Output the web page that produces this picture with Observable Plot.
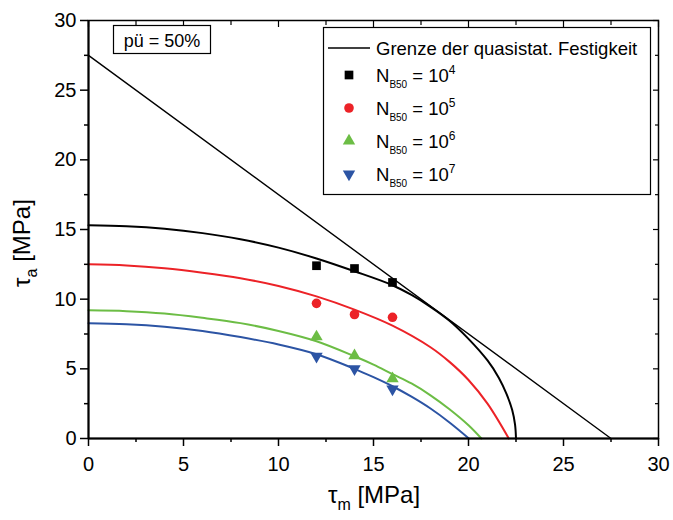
<!DOCTYPE html>
<html>
<head>
<meta charset="utf-8">
<script src="https://cdn.jsdelivr.net/npm/d3@7"></script>
<script src="https://cdn.jsdelivr.net/npm/@observablehq/plot@0.6"></script>
<style>
  body { margin: 0; background: #fff; }
  #chart { width: 673px; height: 520px; }
</style>
</head>
<body>
<div id="chart"></div>
<script>
// ---- data ----
const xMajor = [0, 5, 10, 15, 20, 25, 30];
const xMinor = [2.5, 7.5, 12.5, 17.5, 22.5, 27.5];
const yMajor = [0, 5, 10, 15, 20, 25, 30];
const yMinor = [2.5, 7.5, 12.5, 17.5, 22.5, 27.5];

const limitX = [0, 27.5];
const limitY = [27.5, 0];

const seriesNames = ["N4", "N5", "N6", "N7"];
const seriesColors = ["#000000", "#ec2227", "#6cbd45", "#2c54a4"];
const seriesExp = ["4", "5", "6", "7"];

const curveN4x = [0, 2, 4, 6, 8, 10, 12, 14, 16, 17, 18, 19, 20, 21, 21.6, 22, 22.3, 22.45, 22.5];
const curveN4y = [15.3, 15.23, 15.05, 14.74, 14.3, 13.7, 12.92, 12.0, 11.0, 10.3, 9.45, 8.45, 7.15, 5.6, 4.35, 3.2, 2.05, 1.0, 0];
const curveN5x = [0, 2, 4, 6, 8, 10, 12, 14, 16, 18, 19, 20, 21, 22.12];
const curveN5y = [12.5, 12.42, 12.22, 11.9, 11.5, 10.95, 10.2, 9.25, 8.1, 6.55, 5.5, 4.2, 2.5, 0];
const curveN6x = [0, 2, 4, 6, 8, 10, 12, 14, 15, 16, 17, 18, 19, 20, 20.68];
const curveN6y = [9.2, 9.14, 8.97, 8.66, 8.28, 7.72, 6.98, 5.9, 5.3, 4.62, 3.95, 3.1, 2.1, 0.95, 0];
const curveN7x = [0, 2, 4, 6, 8, 10, 12, 14, 15, 16, 17, 18, 19, 20.02];
const curveN7y = [8.28, 8.2, 8.02, 7.72, 7.28, 6.75, 6.05, 5.0, 4.4, 3.75, 3.0, 2.15, 1.15, 0];

const pointTauM = [12, 14, 16];
const pointsN4 = [12.4, 12.2, 11.2];
const pointsN5 = [9.7, 8.9, 8.7];
const pointsN6 = [7.3, 5.95, 4.3];
const pointsN7 = [5.9, 5.0, 3.55];

// ---- build tables ----
const curveXs = [curveN4x, curveN5x, curveN6x, curveN7x];
const curveYs = [curveN4y, curveN5y, curveN6y, curveN7y];
const curveRows = seriesNames.flatMap((s, i) => curveXs[i].map((x, j) => ({s, x, y: curveYs[i][j]})));
const pointYs = [pointsN4, pointsN5, pointsN6, pointsN7];
const pointRows = seriesNames.flatMap((s, i) => pointTauM.map((x, j) => ({s, x, y: pointYs[i][j]})));
const limitRows = limitX.map((x, i) => ({x, y: limitY[i]}));

const sqrt3 = Math.sqrt(3);
const triangleDown = {
  draw(context, size) {
    const y = Math.sqrt(size / (sqrt3 * 3));
    context.moveTo(0, y * 2);
    context.lineTo(-sqrt3 * y, -y);
    context.lineTo(sqrt3 * y, -y);
    context.closePath();
  }
};
const symbols = ["square", "circle", "triangle", triangleDown];
const symbolR = [4.9, 4.8, 4.6, 4.6];

const font = "'Liberation Sans', Arial, Helvetica, sans-serif";

const pointMarks = seriesNames.map((s, i) =>
  Plot.dot(pointRows.filter(d => d.s === s), {
    x: "x", y: "y", symbol: symbols[i], r: symbolR[i],
    fill: seriesColors[i], stroke: "none"
  })
);

const svg = Plot.plot({
  width: 673,
  height: 520,
  marginLeft: 88,
  marginRight: 15,
  marginTop: 20,
  marginBottom: 82,
  style: {fontFamily: font, fontSize: "20px", background: "#fff", color: "#000", overflow: "visible"},
  x: {domain: [0, 30]},
  y: {domain: [0, 30]},
  color: {domain: seriesNames, range: seriesColors},
  marks: [
    Plot.line(limitRows, {x: "x", y: "y", stroke: "#000", strokeWidth: 1.4}),
    Plot.line(curveRows, {x: "x", y: "y", z: "s", stroke: "s", strokeWidth: 2, curve: "catmull-rom"}),
    ...pointMarks,
    Plot.frame({stroke: "#000", strokeWidth: 1.5}),
    Plot.ruleX([0], {stroke: "#000", strokeWidth: 2}),
    Plot.ruleY([0], {stroke: "#000", strokeWidth: 2}),
    Plot.axisX({ticks: xMajor, tickSize: 8, tickPadding: 10, strokeWidth: 1.5, label: null, tickFormat: d => String(d)}),
    Plot.axisX({ticks: xMinor, tickSize: 4, strokeWidth: 1.5, label: null, tickFormat: () => ""}),
    Plot.axisY({ticks: yMajor, tickSize: 8, tickPadding: 4, strokeWidth: 1.5, label: null, tickFormat: d => String(d)}),
    Plot.axisY({ticks: yMinor, tickSize: 4, strokeWidth: 1.5, label: null, tickFormat: () => ""}),
    Plot.axisX({anchor: "top", ticks: xMajor, tickSize: -6, strokeWidth: 1.2, label: null, tickFormat: () => ""}),
    Plot.axisX({anchor: "top", ticks: xMinor, tickSize: -4, strokeWidth: 1.2, label: null, tickFormat: () => ""}),
    Plot.axisY({anchor: "right", ticks: yMajor, tickSize: -6, strokeWidth: 1.2, label: null, tickFormat: () => ""}),
    Plot.axisY({anchor: "right", ticks: yMinor, tickSize: -4, strokeWidth: 1.2, label: null, tickFormat: () => ""})
  ]
});

const root = d3.select(svg);

// axis titles
const xt = root.append("text")
  .attr("x", 374).attr("y", 503)
  .attr("text-anchor", "middle")
  .attr("font-family", font).attr("font-size", 24).attr("fill", "#000");
xt.append("tspan").text("τ");
xt.append("tspan").attr("font-size", 16).attr("dy", 7).text("m");
xt.append("tspan").attr("dy", -7).text(" [MPa]");

const yt = root.append("text")
  .attr("transform", "translate(30,243) rotate(-90)")
  .attr("text-anchor", "middle")
  .attr("font-family", font).attr("font-size", 24).attr("fill", "#000");
yt.append("tspan").text("τ");
yt.append("tspan").attr("font-size", 16).attr("dy", 7).text("a");
yt.append("tspan").attr("dy", -7).text(" [MPa]");

// pü box
root.append("rect").attr("x", 113.5).attr("y", 25.5).attr("width", 97).attr("height", 28)
  .attr("fill", "#fff").attr("stroke", "#000").attr("stroke-width", 1.2);
root.append("text").attr("x", 162).attr("y", 46.5).attr("text-anchor", "middle")
  .attr("font-family", font).attr("font-size", 18).attr("fill", "#000").text("pü = 50%");

// legend
const lg = root.append("g").attr("font-family", font).attr("fill", "#000").attr("text-anchor", "start");
lg.append("rect").attr("x", 323.5).attr("y", 27.5).attr("width", 327).attr("height", 167)
  .attr("fill", "#fff").attr("stroke", "#000").attr("stroke-width", 1.2);
lg.append("line").attr("x1", 328).attr("x2", 370).attr("y1", 48).attr("y2", 48)
  .attr("stroke", "#000").attr("stroke-width", 1.4);
lg.append("text").attr("x", 376).attr("y", 54.5).attr("text-anchor", "start")
  .attr("font-size", 18.5).text("Grenze der quasistat. Festigkeit");
const rowY = [75, 108, 141, 174];
seriesNames.forEach((s, i) => {
  const sym = symbols[i];
  const type = sym === "square" ? d3.symbolSquare : sym === "circle" ? d3.symbolCircle : sym === "triangle" ? d3.symbolTriangle : triangleDown;
  lg.append("path")
    .attr("d", d3.symbol(type, symbolR[i] * symbolR[i] * Math.PI)())
    .attr("transform", `translate(349,${rowY[i]})`)
    .attr("fill", seriesColors[i]);
  const t = lg.append("text").attr("x", 376).attr("y", rowY[i] + 7)
    .attr("text-anchor", "start").attr("font-size", 18.5);
  t.append("tspan").text("N");
  t.append("tspan").attr("font-size", 10).attr("dy", 6).text("B50");
  t.append("tspan").attr("dy", -6).text(" = 10");
  t.append("tspan").attr("font-size", 12).attr("dy", -8).text(seriesExp[i]);
});

document.getElementById("chart").appendChild(svg);
</script>
</body>
</html>
